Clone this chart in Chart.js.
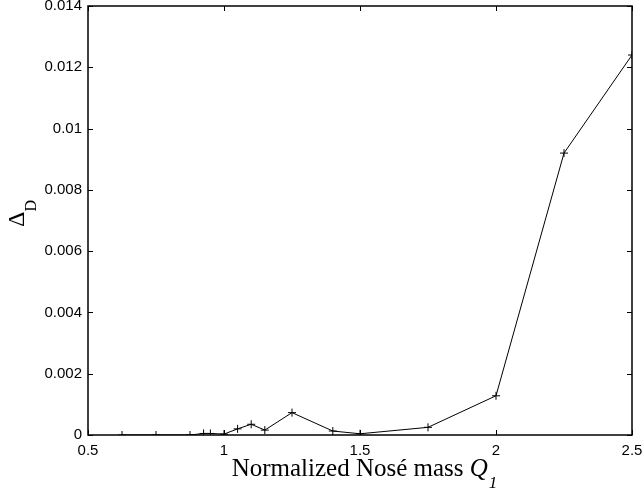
<!DOCTYPE html>
<html>
<head>
<meta charset="utf-8">
<script src="https://cdn.jsdelivr.net/npm/chart.js@4"></script>
<style>
  html, body { margin: 0; padding: 0; background: #fff; }
  #wrap { width: 644px; height: 488px; }
</style>
</head>
<body>
<div id="wrap"><canvas id="chart" width="644" height="488"></canvas></div>
<script>
// normalized Nosé mass vs. Delta_D
const massQ = [0.625, 0.75, 0.875, 0.925, 0.95, 1.0, 1.05, 1.1, 1.15, 1.25, 1.4, 1.5, 1.75, 2.0, 2.25, 2.5];
const deltaD = [0, 0, 0, 0.00005, 0.00005, 0.00003, 0.0002, 0.00035, 0.00016, 0.00073, 0.00013, 0.00004, 0.00025, 0.00128, 0.0092, 0.0124];
const xTicks = [0.5, 1, 1.5, 2, 2.5];
const yTicks = [0, 0.002, 0.004, 0.006, 0.008, 0.01, 0.012, 0.014];

const tickFont = { family: '"Liberation Sans", Arial, sans-serif', size: 15 };

// box around the axes, inward tick marks on all four sides, axis labels
const frame = {
  id: 'frame',
  afterDraw(chart) {
    const ctx = chart.ctx;
    const a = chart.chartArea;
    const xs = chart.scales.x, ys = chart.scales.y;
    const len = 5;
    ctx.save();
    ctx.strokeStyle = '#000';
    ctx.lineWidth = 1.5;
    ctx.strokeRect(a.left, a.top, a.right - a.left, a.bottom - a.top);
    ctx.lineWidth = 1;
    ctx.beginPath();
    xTicks.forEach(v => {
      const px = Math.round(xs.getPixelForValue(v)) + 0.5;
      ctx.moveTo(px, a.bottom); ctx.lineTo(px, a.bottom - len);
      ctx.moveTo(px, a.top); ctx.lineTo(px, a.top + len);
    });
    yTicks.forEach(v => {
      const py = Math.round(ys.getPixelForValue(v)) + 0.5;
      ctx.moveTo(a.left, py); ctx.lineTo(a.left + len, py);
      ctx.moveTo(a.right, py); ctx.lineTo(a.right - len, py);
    });
    ctx.stroke();

    // x label: Normalized Nosé mass Q_1
    ctx.fillStyle = '#000';
    ctx.textBaseline = 'alphabetic';
    ctx.textAlign = 'left';
    const serif = '"Liberation Serif", "Times New Roman", serif';
    const main = 'Normalized Nosé mass ';
    ctx.font = '25px ' + serif;
    const w1 = ctx.measureText(main).width;
    ctx.font = 'italic 25px ' + serif;
    const w2 = ctx.measureText('Q').width;
    ctx.font = 'italic 17px ' + serif;
    const w3 = ctx.measureText('1').width;
    let x0 = 364 - (w1 + w2 + w3) / 2;
    ctx.font = '25px ' + serif;
    ctx.fillText(main, x0, 476);
    ctx.font = 'italic 25px ' + serif;
    ctx.fillText('Q', x0 + w1, 476);
    ctx.font = 'italic 17px ' + serif;
    ctx.fillText('1', x0 + w1 + w2 + 1, 488);

    // y label: Delta_D, rotated
    ctx.translate(24, 227);
    ctx.rotate(-Math.PI / 2);
    ctx.font = '24px ' + serif;
    ctx.fillText('\u0394', 0, 0);
    const wd = ctx.measureText('\u0394').width;
    ctx.font = '16px ' + serif;
    ctx.fillText('D', wd, 12);
    ctx.restore();
  }
};

new Chart(document.getElementById('chart'), {
  type: 'scatter',
  data: {
    datasets: [{
      data: massQ.map((q, i) => ({ x: q, y: deltaD[i] })),
      showLine: true,
      borderColor: '#000',
      borderWidth: 1,
      pointStyle: 'cross',
      pointRadius: 4,
      pointBorderWidth: 1,
      pointBorderColor: '#000',
      pointHoverRadius: 4,
      fill: false
    }]
  },
  options: {
    responsive: false,
    animation: false,
    events: [],
    layout: { padding: { top: 6, right: 12, left: 0, bottom: 0 } },
    plugins: { legend: { display: false }, tooltip: { enabled: false } },
    scales: {
      x: {
        type: 'linear',
        min: 0.5, max: 2.5,
        afterBuildTicks: s => { s.ticks = xTicks.map(v => ({ value: v })); },
        afterFit: s => { s.height = 53; s.paddingLeft = 0; s.paddingRight = 0; },
        grid: { display: false, drawTicks: false },
        border: { display: false },
        ticks: { font: tickFont, color: '#000', padding: 7, maxRotation: 0, callback: v => String(v) }
      },
      y: {
        type: 'linear',
        min: 0, max: 0.014,
        afterBuildTicks: s => { s.ticks = yTicks.map(v => ({ value: v })); },
        afterFit: s => { s.width = 88; s.paddingTop = 0; s.paddingBottom = 0; },
        grid: { display: false, drawTicks: false },
        border: { display: false },
        ticks: { font: tickFont, color: '#000', padding: 6, callback: v => String(v) }
      }
    }
  },
  plugins: [frame]
});
</script>
</body>
</html>
